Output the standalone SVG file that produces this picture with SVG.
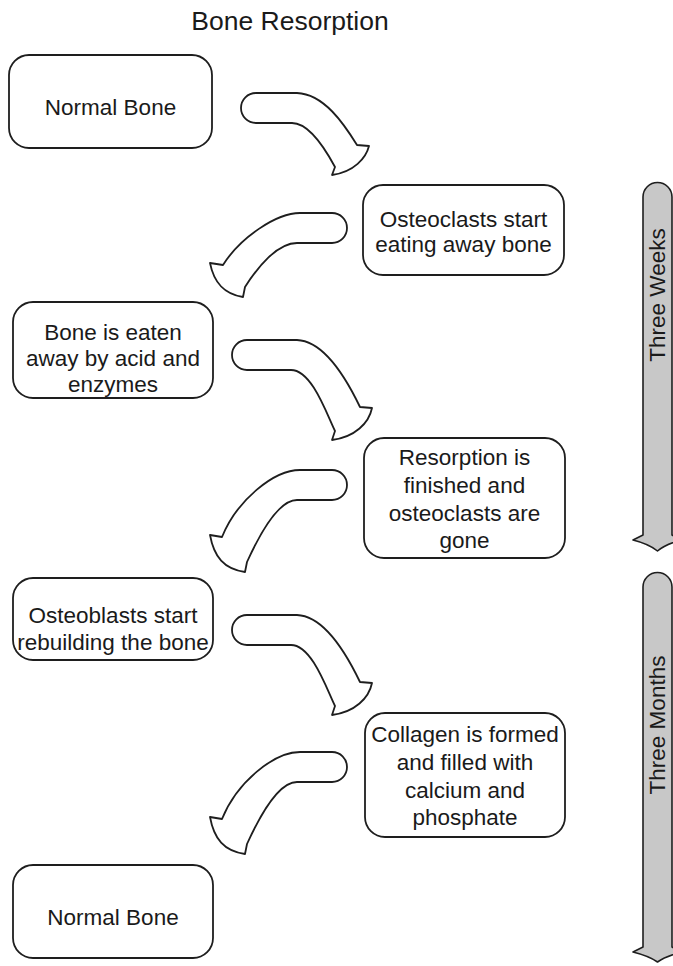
<svg xmlns="http://www.w3.org/2000/svg" width="673" height="966" viewBox="0 0 673 966">
<style>
.box{fill:#fff;stroke:#1e1e1e;stroke-width:1.8}
.arr{fill:#fff;stroke:#1e1e1e;stroke-width:1.8;stroke-linejoin:round}
.bar{fill:#c8c8c8;stroke:#1e1e1e;stroke-width:1.6;stroke-linejoin:round}
text{font-family:"Liberation Sans",Arial,sans-serif;fill:#1a1a1a;text-anchor:middle}
.t{font-size:22.5px}
.title{font-size:26.5px}
</style>
<defs>
<path id="ar" d="M0,-15 L41,-15 C68,-14 88,16 101,37 L113,38 C110,50 98,64 76,67 L79,59 C72,46 55,15 36,15 L0,15 A15,15 0 0 1 0,-15 Z"/>
<path id="al" d="M0,-15 L-32,-15 C-56,-15 -92,10 -109,37 L-122,35 C-118,55 -108,66 -89,69 L-87,59 C-75,40 -55,15 -35,15 L0,15 A15,15 0 0 0 0,-15 Z"/>
<path id="ar2" d="M0,-15 L50,-15 C78,-14 100,25 113,52 L125,53 C122,68 108,82 85,85 L88,76 C80,60 65,15 44,15 L0,15 A15,15 0 0 1 0,-15 Z"/>
<path id="al2" d="M0,-15 L-32,-15 C-58,-15 -95,15 -110,52 L-122,50 C-118,72 -108,84 -87,87 L-85,77 C-75,55 -55,15 -35,15 L0,15 A15,15 0 0 0 0,-15 Z"/>
</defs>
<text class="title" x="290" y="30">Bone Resorption</text>
<g id="connectors">
<use href="#ar" class="arr" transform="translate(256,108)"/>
<use href="#al" class="arr" transform="translate(332,228)"/>
<use href="#ar2" class="arr" transform="translate(247,355)"/>
<use href="#al2" class="arr" transform="translate(332,485)"/>
<use href="#ar2" class="arr" transform="translate(247,630)"/>
<use href="#al2" class="arr" transform="translate(332,767)"/>
</g>
<g id="node1"><rect class="box" x="9" y="55" width="203" height="93" rx="20"/><text class="t" x="110.5" y="115">Normal Bone</text></g>
<g id="node2"><rect class="box" x="363" y="185" width="201" height="90" rx="20"/><text class="t" x="463.5" y="227">Osteoclasts start</text><text class="t" x="463.5" y="252">eating away bone</text></g>
<g id="node3"><rect class="box" x="13" y="302" width="200" height="96" rx="20"/><text class="t" x="113" y="340">Bone is eaten</text><text class="t" x="113" y="366">away by acid and</text><text class="t" x="113" y="392">enzymes</text></g>
<g id="node4"><rect class="box" x="364" y="438" width="201" height="120" rx="20"/><text class="t" x="464.5" y="465">Resorption is</text><text class="t" x="464.5" y="493">finished and</text><text class="t" x="464.5" y="521">osteoclasts are</text><text class="t" x="464.5" y="548">gone</text></g>
<g id="node5"><rect class="box" x="13" y="578" width="200" height="82" rx="20"/><text class="t" x="113" y="623">Osteoblasts start</text><text class="t" x="113" y="650">rebuilding the bone</text></g>
<g id="node6"><rect class="box" x="365" y="713" width="200" height="124" rx="20"/><text class="t" x="465" y="742">Collagen is formed</text><text class="t" x="465" y="770">and filled with</text><text class="t" x="465" y="798">calcium and</text><text class="t" x="465" y="825">phosphate</text></g>
<g id="node7"><rect class="box" x="13" y="865" width="200" height="93" rx="20"/><text class="t" x="113" y="925">Normal Bone</text></g>
<g id="bar1"><path class="bar" d="M643,197 A14.5,14.5 0 0 1 672,197 L672,535 L682,540 Q666,544 657.5,551 Q649,544 633,540 L643,535 Z"/><text class="t" transform="translate(665,295) rotate(-90)">Three Weeks</text></g>
<g id="bar2"><path class="bar" d="M643,587 A14.5,14.5 0 0 1 672,587 L672,947 L682,952 Q666,956 657.5,962 Q649,956 633,952 L643,947 Z"/><text class="t" transform="translate(665,725) rotate(-90)">Three Months</text></g>
</svg>
